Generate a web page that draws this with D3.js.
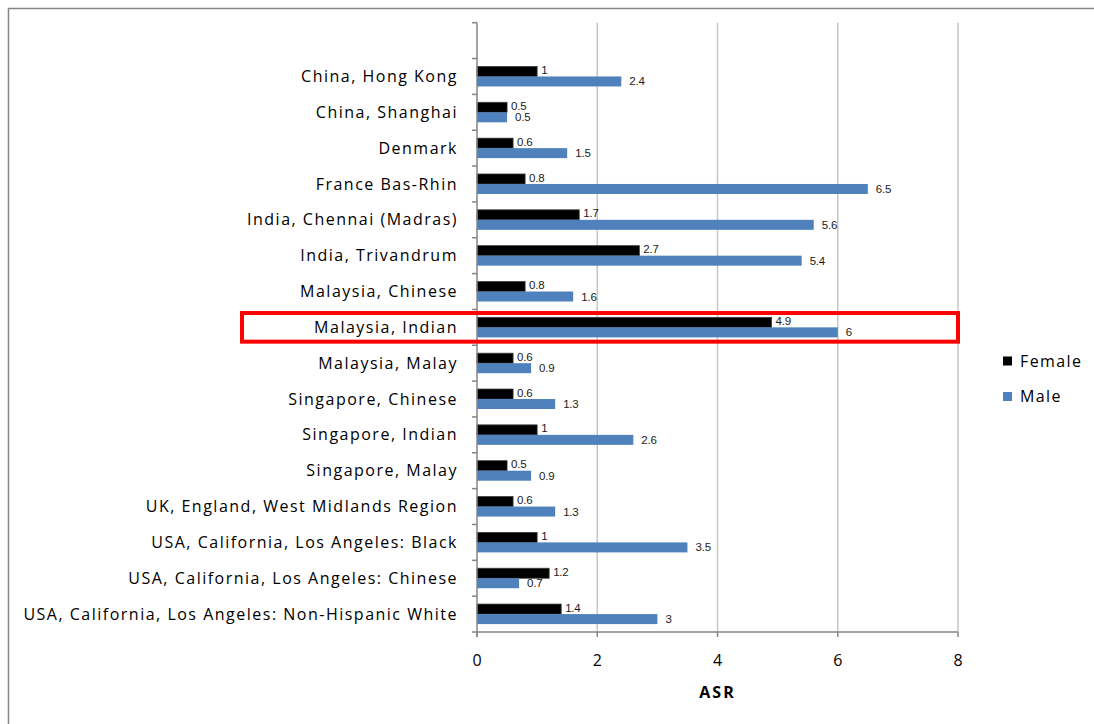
<!DOCTYPE html>
<html>
<head>
<meta charset="utf-8">
<script src="https://cdn.jsdelivr.net/npm/d3@7"></script>
<style>
  html, body { margin: 0; padding: 0; background: #fff; }
  svg { display: block; }
</style>
</head>
<body>
<script>
// data
const categories = [
  'China, Hong Kong',
  'China, Shanghai',
  'Denmark',
  'France Bas-Rhin',
  'India, Chennai (Madras)',
  'India, Trivandrum',
  'Malaysia, Chinese',
  'Malaysia, Indian',
  'Malaysia, Malay',
  'Singapore, Chinese',
  'Singapore, Indian',
  'Singapore, Malay',
  'UK, England, West Midlands Region',
  'USA, California, Los Angeles: Black',
  'USA, California, Los Angeles: Chinese',
  'USA, California, Los Angeles: Non-Hispanic White'
];
const female = [1, 0.5, 0.6, 0.8, 1.7, 2.7, 0.8, 4.9, 0.6, 0.6, 1, 0.5, 0.6, 1, 1.2, 1.4];
const male = [2.4, 0.5, 1.5, 6.5, 5.6, 5.4, 1.6, 6, 0.9, 1.3, 2.6, 0.9, 1.3, 3.5, 0.7, 3];
const seriesNames = ['Female', 'Male'];
const seriesColors = ['#000000', '#4f81bd'];
const xTicks = [0, 2, 4, 6, 8];
const highlighted = 'Malaysia, Indian';

const W = 1094, H = 724;
const plot = { left: 477, right: 958, top: 22.7, bottom: 632 };

const svg = d3.select('body').append('svg')
  .attr('width', W)
  .attr('height', H);

// chart frame
svg.append('rect')
  .attr('x', 8.5).attr('y', 8.5)
  .attr('width', W + 20).attr('height', H + 20)
  .attr('fill', 'none')
  .attr('stroke', '#868686')
  .attr('stroke-width', 1.5);

const x = d3.scaleLinear().domain([0, 8]).range([plot.left, plot.right]);
// the source sheet has a blank first row, so keep an empty slot on top
const y = d3.scaleBand().domain([''].concat(categories)).range([plot.top, plot.bottom]);
const sub = d3.scaleBand().domain(seriesNames)
  .range([y.bandwidth() / 2 - 10, y.bandwidth() / 2 + 10]);

// gridlines
svg.append('g')
  .selectAll('line')
  .data(xTicks.slice(1))
  .enter()
  .append('line')
  .attr('x1', d => x(d)).attr('x2', d => x(d))
  .attr('y1', plot.top).attr('y2', plot.bottom)
  .attr('stroke', '#c6c6c6')
  .attr('stroke-width', 1.5);

// bars
const rows = categories.map((c, i) => ({ cat: c, vals: [female[i], male[i]] }));

const groups = svg.append('g')
  .selectAll('g.row')
  .data(rows)
  .enter()
  .append('g')
  .attr('class', 'row')
  .attr('transform', d => 'translate(0,' + y(d.cat) + ')');

groups.selectAll('rect')
  .data(d => d.vals.map((v, k) => ({ v: v, s: seriesNames[k], k: k })))
  .enter()
  .append('rect')
  .attr('x', x(0))
  .attr('y', d => sub(d.s))
  .attr('width', d => x(d.v) - x(0))
  .attr('height', sub.bandwidth())
  .attr('fill', d => seriesColors[d.k])
  .attr('stroke', d => d.k === 0 ? '#3a3a3a' : 'none')
  .attr('stroke-width', 0.8);

groups.selectAll('text')
  .data(d => d.vals.map((v, k) => ({ v: v, s: seriesNames[k], k: k })))
  .enter()
  .append('text')
  .attr('x', d => x(d.v) + (d.k === 0 ? 4 : 8))
  .attr('y', d => sub(d.s) + sub.bandwidth() / 2 + (d.k === 0 ? -1.5 : 0))
  .attr('dy', '0.35em')
  .style('font-family', '"Liberation Sans", Arial, sans-serif')
  .style('font-size', '11.5px')
  .style('letter-spacing', '-0.2px')
  .attr('fill', '#1a1a1a')
  .text(d => String(d.v));

// axes
const axisColor = '#868686';
const axes = svg.append('g');

axes.append('line')
  .attr('x1', x(0)).attr('x2', x(0))
  .attr('y1', plot.top).attr('y2', plot.bottom + 5)
  .attr('stroke', axisColor).attr('stroke-width', 1.5);

axes.append('line')
  .attr('x1', x(0) - 5).attr('x2', plot.right)
  .attr('y1', plot.bottom).attr('y2', plot.bottom)
  .attr('stroke', axisColor).attr('stroke-width', 1.5);

// category ticks on band boundaries
axes.selectAll('line.ytick')
  .data(y.domain())
  .enter()
  .append('line')
  .attr('class', 'ytick')
  .attr('x1', x(0) - 5).attr('x2', x(0))
  .attr('y1', d => y(d)).attr('y2', d => y(d))
  .attr('stroke', axisColor).attr('stroke-width', 1.5);

axes.selectAll('line.xtick')
  .data(xTicks)
  .enter()
  .append('line')
  .attr('class', 'xtick')
  .attr('x1', d => x(d)).attr('x2', d => x(d))
  .attr('y1', plot.bottom).attr('y2', plot.bottom + 5)
  .attr('stroke', axisColor).attr('stroke-width', 1.5);

axes.selectAll('text.xlab')
  .data(xTicks)
  .enter()
  .append('text')
  .attr('class', 'xlab')
  .attr('x', d => x(d))
  .attr('y', 660)
  .attr('dy', '0.35em')
  .attr('text-anchor', 'middle')
  .style('font-family', '"Open Sans", sans-serif')
  .style('font-size', '16px')
  .attr('fill', '#000')
  .text(d => d);

axes.selectAll('text.ylab')
  .data(categories)
  .enter()
  .append('text')
  .attr('class', 'ylab')
  .attr('x', 458)
  .attr('y', d => y(d) + y.bandwidth() / 2)
  .attr('dy', '0.35em')
  .attr('text-anchor', 'end')
  .style('font-family', '"Open Sans", sans-serif')
  .style('font-size', '16px')
  .style('letter-spacing', '1.5px')
  .attr('fill', '#000')
  .text(d => d);

svg.append('text')
  .attr('x', (x(0) + x(8)) / 2)
  .attr('y', 692)
  .attr('dy', '0.35em')
  .attr('text-anchor', 'middle')
  .style('font-family', '"Open Sans", sans-serif')
  .style('font-size', '16px')
  .style('font-weight', 'bold')
  .style('letter-spacing', '2px')
  .attr('fill', '#000')
  .text('ASR');

// legend
const legend = svg.append('g')
  .selectAll('g')
  .data(seriesNames)
  .enter()
  .append('g')
  .attr('transform', (d, i) => 'translate(1003,' + (361 + i * 35.5) + ')');

legend.append('rect')
  .attr('x', 0).attr('y', -4.5)
  .attr('width', 9).attr('height', 9)
  .attr('fill', (d, i) => seriesColors[i]);

legend.append('text')
  .attr('x', 17)
  .attr('y', 0)
  .attr('dy', '0.35em')
  .style('font-family', '"Open Sans", sans-serif')
  .style('font-size', '16px')
  .style('letter-spacing', '1.4px')
  .attr('fill', '#000')
  .text(d => d);

// red highlight box round one row
svg.append('rect')
  .attr('x', 242)
  .attr('y', y(highlighted) + 3.6)
  .attr('width', plot.right - 242)
  .attr('height', y.bandwidth() - 7.2)
  .attr('fill', 'none')
  .attr('stroke', '#ff0000')
  .attr('stroke-width', 4);
</script>
</body>
</html>
